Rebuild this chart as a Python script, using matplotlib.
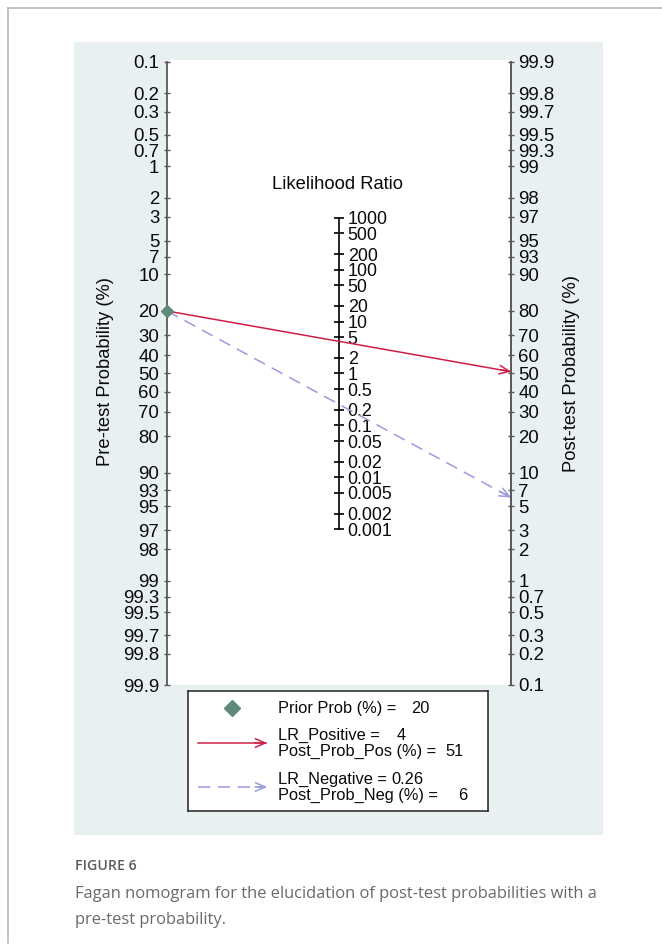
import numpy as np
import matplotlib
matplotlib.use("Agg")
import matplotlib.pyplot as plt
from matplotlib.patches import Rectangle
from matplotlib.lines import Line2D

# ---------------- data ----------------
prob_ticks = [0.1, 0.2, 0.3, 0.5, 0.7, 1, 2, 3, 5, 7, 10, 20, 30, 40, 50, 60, 70,
              80, 90, 93, 95, 97, 98, 99, 99.3, 99.5, 99.7, 99.8, 99.9]
prob_labels = ["0.1", "0.2", "0.3", "0.5", "0.7", "1", "2", "3", "5", "7", "10", "20",
               "30", "40", "50", "60", "70", "80", "90", "93", "95", "97", "98", "99",
               "99.3", "99.5", "99.7", "99.8", "99.9"]
lr_ticks = [1000, 500, 200, 100, 50, 20, 10, 5, 2, 1, 0.5, 0.2, 0.1, 0.05, 0.02,
            0.01, 0.005, 0.002, 0.001]
lr_labels = ["1000", "500", "200", "100", "50", "20", "10", "5", "2", "1", "0.5",
             "0.2", "0.1", "0.05", "0.02", "0.01", "0.005", "0.002", "0.001"]
prior_prob = 20
lr_positive = 4
post_prob_pos = 51
lr_negative = 0.26
post_prob_neg = 6

# ---------------- style ----------------
W, H = 662, 947
DPI = 100
FONT = "Liberation Sans"
RED = "#cf1f47"
BLUE = "#9a9ade"
GREEN = "#5e8a7c"
PANEL = "#e9f0f2"
AXGRAY = "#5a5a5a"
TXT = "#0a0a0a"


def logit(p):
    p = np.asarray(p, dtype=float) / 100.0
    return np.log(p / (1 - p))


def fx(px):
    return px / W


def fy(py):
    return 1 - py / H


fig = plt.figure(figsize=(W / DPI, H / DPI), dpi=DPI)
fig.patch.set_facecolor("white")

# outer thin border (left and top)
fig.add_artist(Line2D([fx(8), fx(8)], [fy(943), fy(8)], color="#b8b8b8", lw=1.2))
fig.add_artist(Line2D([fx(8), fx(662)], [fy(8), fy(8)], color="#b8b8b8", lw=1.2))

# graph region panel
fig.add_artist(Rectangle((fx(74), fy(835)), fx(603) - fx(74), fy(42) - fy(835),
                         facecolor=PANEL, edgecolor="none", zorder=0))

# main axes
ax_l, ax_r, ax_t, ax_b = 167, 511, 60, 685
ax = fig.add_axes([fx(ax_l), fy(ax_b), fx(ax_r) - fx(ax_l), fy(ax_t) - fy(ax_b)])
ax.set_facecolor("white")
lo = float(logit(0.1))
hi = float(logit(99.9))
span = hi - lo
ax.set_xlim(0, 1)
ax.set_ylim(hi, lo - span * 2 / 623)
for s in ["top", "bottom"]:
    ax.spines[s].set_visible(False)
for s in ["left", "right"]:
    ax.spines[s].set_color(AXGRAY)
    ax.spines[s].set_linewidth(1.3)
    ax.spines[s].set_bounds(lo, hi)
ax.set_xticks([])
ax.set_yticks(logit(prob_ticks))
ax.set_yticklabels(prob_labels, fontfamily=FONT)
ax.tick_params(axis="y", direction="inout", length=4.5, width=1, color=AXGRAY,
               labelsize=13.4, pad=3.4, labelcolor=TXT)

ax2 = ax.twinx()
ax2.set_ylim(ax.get_ylim())
for s in ["top", "bottom", "left"]:
    ax2.spines[s].set_visible(False)
ax2.spines["right"].set_color(AXGRAY)
ax2.spines["right"].set_linewidth(1.3)
ax2.spines["right"].set_bounds(lo, hi)
ax2.set_yticks(-logit(prob_ticks))
ax2.set_yticklabels(prob_labels, fontfamily=FONT)
ax2.tick_params(axis="y", direction="inout", length=4.5, width=1, color=AXGRAY,
                labelsize=13.4, pad=3.0, labelcolor=TXT)

# middle likelihood-ratio axis
lr_y = -np.log(np.array(lr_ticks, dtype=float)) / 2
ax.plot([0.5, 0.5], [lr_y.min(), lr_y.max()], color="black", lw=1.2, zorder=3)
ax.plot(np.full(len(lr_y), 0.5), lr_y, linestyle="none", marker="_", markersize=7,
        markeredgewidth=1.2, color="black", zorder=3)
for yv, lab in zip(lr_y, lr_labels):
    ax.annotate(lab, (0.5, yv), xytext=(6.3, 0), textcoords="offset points",
                ha="left", va="center_baseline", fontsize=12.9, fontfamily=FONT,
                color=TXT, zorder=4)
fig.text(fx(338), fy(184), "Likelihood Ratio", ha="center", va="center",
         fontsize=13.2, fontfamily=FONT, color=TXT)

# lines
y0 = float(logit(prior_prob))
yp = float(-logit(post_prob_pos))
yn = float(-logit(post_prob_neg))
ax.plot([0, 1], [y0, yp], color=RED, lw=1.1, zorder=5, clip_on=False)
ax.plot([0, 1], [y0, yn], color=BLUE, lw=1.1, zorder=5, dashes=(8, 5), clip_on=False)
for yend, col in [(yp, RED), (yn, BLUE)]:
    ax.annotate("", xy=(1, yend), xytext=(1 - 0.03, y0 + (yend - y0) * 0.97),
                arrowprops=dict(arrowstyle="->,head_length=0.5,head_width=0.22",
                                color=col, lw=1.1, shrinkA=0, shrinkB=0,
                                mutation_scale=14), zorder=6, annotation_clip=False)
ax.plot([0], [y0], marker="D", markersize=6.2, color=GREEN, zorder=7, clip_on=False,
        linestyle="none")

# axis titles
fig.text(fx(106), fy(372), "Pre-test Probability (%)", rotation=90, ha="center",
         va="center", fontsize=13.2, fontfamily=FONT, color=TXT)
fig.text(fx(571), fy(373), "Post-test Probability (%)", rotation=90, ha="center",
         va="center", fontsize=13.2, fontfamily=FONT, color=TXT)

# legend (manual, pixel-based layout)
lg_l, lg_r, lg_t, lg_b = 188, 488, 691, 811
lax = fig.add_axes([fx(lg_l), fy(lg_b), fx(lg_r) - fx(lg_l), fy(lg_t) - fy(lg_b)])
lax.set_xlim(lg_l, lg_r)
lax.set_ylim(lg_b, lg_t)
lax.set_xticks([])
lax.set_yticks([])
lax.set_facecolor("white")
for s in lax.spines.values():
    s.set_color("#222222")
    s.set_linewidth(1.1)
LFS = 11.8
lax.plot([232], [708], marker="D", markersize=7.8, color=GREEN, linestyle="none")
lax.plot([198, 266], [743, 743], color=RED, lw=1.1)
lax.annotate("", xy=(267, 743), xytext=(255, 743),
             arrowprops=dict(arrowstyle="->,head_length=0.5,head_width=0.22",
                             color=RED, lw=1.1, shrinkA=0, shrinkB=0,
                             mutation_scale=14))
lax.plot([198, 266], [787, 787], color=BLUE, lw=1.1, dashes=(8, 5))
lax.annotate("", xy=(267, 787), xytext=(255, 787),
             arrowprops=dict(arrowstyle="->,head_length=0.5,head_width=0.22",
                             color=BLUE, lw=1.1, shrinkA=0, shrinkB=0,
                             mutation_scale=14))
rows = [
    (708, "Prior Prob (%) =", f"{prior_prob:g}", 411),
    (735, "LR_Positive =", f"{lr_positive:g}", 397),
    (751, "Post_Prob_Pos (%) =", f"{post_prob_pos:g}", 445),
    (779, "LR_Negative =", f"{lr_negative:g}", 391),
    (795, "Post_Prob_Neg (%) =", f"{post_prob_neg:g}", 458),
]
for yy, lab, val, vx in rows:
    lax.text(278, yy, lab, ha="left", va="center", fontsize=LFS, fontfamily=FONT,
             color=TXT)
    lax.text(vx, yy, val, ha="left", va="center", fontsize=LFS, fontfamily=FONT,
             color=TXT)

# caption
fig.text(fx(75), fy(866), "FIGURE 6", ha="left", va="center", fontsize=10.2,
         fontfamily="Open Sans", fontweight="semibold", color="#5c5c5c")
fig.text(fx(75), fy(894),
         "Fagan nomogram for the elucidation of post-test probabilities with a",
         ha="left", va="center", fontsize=11.9, fontfamily="Open Sans", color="#6a6a6a")
fig.text(fx(75), fy(920), "pre-test probability.", ha="left", va="center",
         fontsize=11.9, fontfamily="Open Sans", color="#6a6a6a")

fig.savefig("out.png", dpi=DPI, facecolor="white")
